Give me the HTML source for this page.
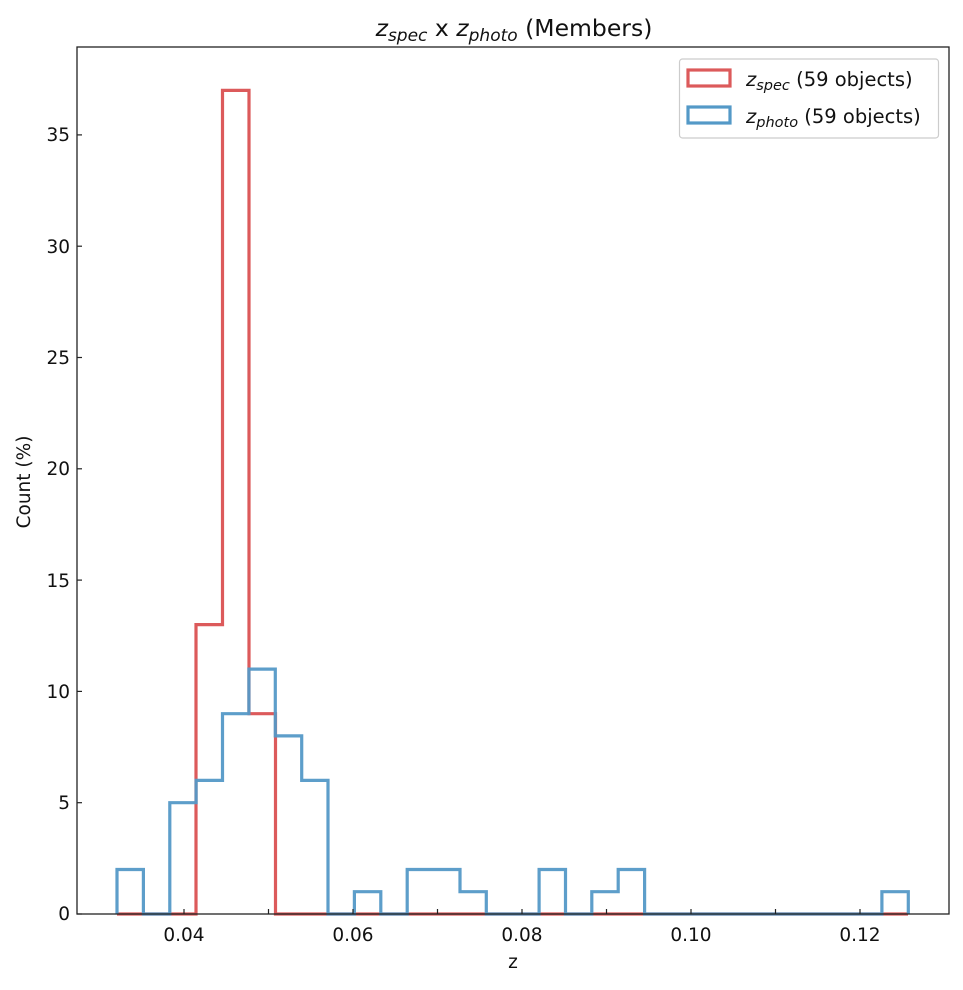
<!DOCTYPE html>
<html><head><meta charset="utf-8"><style>body{margin:0;background:#fff}</style></head>
<body>
<svg width="963" height="985" viewBox="0 0 963 985" xmlns="http://www.w3.org/2000/svg" font-family="'DejaVu Sans', 'Liberation Sans', sans-serif">
<rect width="963" height="985" fill="#fff"/>
<g fill="none" stroke-width="3.2" stroke-linejoin="miter">
<path d="M117,914 H196 V624.6 H222.5 V90.4 H249 V713.7 H275.5 V914 H908" stroke="#dc5a5b"/>
<path d="M117,914 V869.5 H143.4 V914 H169.8 V802.7 H196.1 V780.4 H222.5 V713.7 H248.9 V669.1 H275.3 V735.9 H301.7 V780.4 H328 V914 H354.4 V891.7 H380.8 V914 H407.2 V869.5 H433.6 V869.5 H460 V891.7 H486.3 V914 H539.1 V869.5 H565.5 V914 H591.8 V891.7 H618.2 V869.5 H644.6 V914 H881.9 V891.7 H908.3 V914" stroke="#5499c7" stroke-opacity="0.95"/>
</g>
<rect x="77" y="47" width="872" height="867" fill="none" stroke="#222" stroke-width="1.3"/>
<g stroke="#222" stroke-width="1.2">
<line x1="184" y1="914" x2="184" y2="909"/><line x1="268.5" y1="914" x2="268.5" y2="909"/><line x1="353" y1="914" x2="353" y2="909"/><line x1="437.5" y1="914" x2="437.5" y2="909"/><line x1="522" y1="914" x2="522" y2="909"/><line x1="606.5" y1="914" x2="606.5" y2="909"/><line x1="691" y1="914" x2="691" y2="909"/><line x1="775.5" y1="914" x2="775.5" y2="909"/><line x1="860" y1="914" x2="860" y2="909"/>
<line x1="77" y1="914" x2="82" y2="914"/><line x1="77" y1="802.7" x2="82" y2="802.7"/><line x1="77" y1="691.4" x2="82" y2="691.4"/><line x1="77" y1="580.1" x2="82" y2="580.1"/><line x1="77" y1="468.8" x2="82" y2="468.8"/><line x1="77" y1="357.5" x2="82" y2="357.5"/><line x1="77" y1="246.2" x2="82" y2="246.2"/><line x1="77" y1="134.9" x2="82" y2="134.9"/>
</g>
<g font-size="18.5" fill="#111" text-anchor="middle">
<text x="184" y="941">0.04</text><text x="353" y="941">0.06</text><text x="522" y="941">0.08</text><text x="691" y="941">0.10</text><text x="860" y="941">0.12</text>
<text x="513" y="968">z</text>
</g>
<g font-size="18.5" fill="#111" text-anchor="end">
<text x="70" y="920">0</text><text x="70" y="809">5</text><text x="70" y="698">10</text><text x="70" y="587">15</text><text x="70" y="475">20</text><text x="70" y="364">25</text><text x="70" y="253">30</text><text x="70" y="141">35</text>
</g>
<text transform="translate(30,482) rotate(-90)" font-size="18.5" fill="#111" text-anchor="middle">Count (%)</text>
<text x="514" y="36" font-size="23.5" fill="#111" text-anchor="middle"><tspan font-style="italic">z</tspan><tspan font-style="italic" font-size="17" dy="5">spec</tspan><tspan dy="-5"> x </tspan><tspan font-style="italic">z</tspan><tspan font-style="italic" font-size="17" dy="5">photo</tspan><tspan dy="-5"> (Members)</tspan></text>
<rect x="679.5" y="59" width="259" height="79" rx="3" fill="#fff" stroke="#ccc" stroke-width="1.2"/>
<rect x="688" y="70" width="42" height="16" fill="none" stroke="#dc5a5b" stroke-width="3.2"/>
<rect x="688" y="107" width="42" height="16" fill="none" stroke="#5499c7" stroke-width="3.2"/>
<text x="746" y="86" font-size="19.5" fill="#111"><tspan font-style="italic">z</tspan><tspan font-style="italic" font-size="14.5" dy="4">spec</tspan><tspan dy="-4"> (59 objects)</tspan></text>
<text x="746" y="123" font-size="19.5" fill="#111"><tspan font-style="italic">z</tspan><tspan font-style="italic" font-size="14.5" dy="4">photo</tspan><tspan dy="-4"> (59 objects)</tspan></text>
</svg>
</body></html>
